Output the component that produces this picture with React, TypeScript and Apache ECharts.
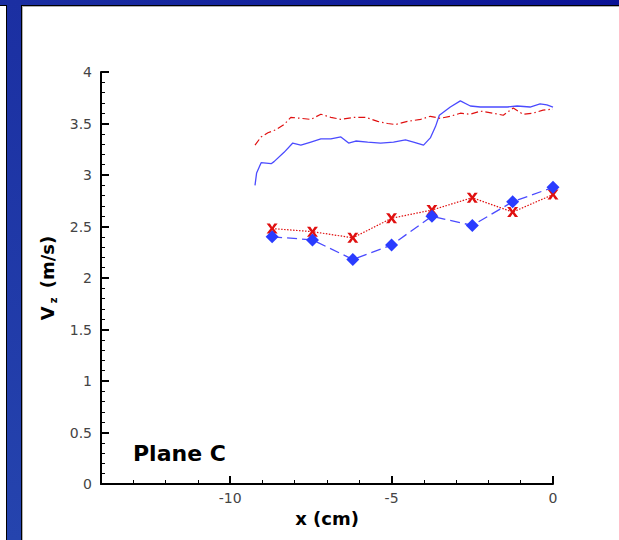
import React, { useEffect, useRef } from "react";
import * as echarts from "echarts";

// Continuous profile (solid blue)
const blueLineX = [-9.23, -9.18, -9.04, -8.73, -8.64, -8.33, -8.06, -7.81, -7.5, -7.19, -6.88, -6.57, -6.33, -6.11, -5.74, -5.34, -4.94, -4.57, -4.32, -4.01, -3.8, -3.64, -3.52, -3.18, -2.87, -2.56, -2.25, -1.85, -1.42, -1.11, -0.71, -0.4, -0.19, 0];
const blueLineY = [2.9, 3.02, 3.12, 3.11, 3.13, 3.22, 3.31, 3.29, 3.32, 3.35, 3.35, 3.37, 3.31, 3.33, 3.32, 3.31, 3.32, 3.34, 3.32, 3.29, 3.36, 3.47, 3.58, 3.66, 3.72, 3.67, 3.66, 3.66, 3.66, 3.67, 3.66, 3.69, 3.68, 3.66];

// Continuous profile (red dash-dot)
const redLineX = [-9.23, -9.04, -8.83, -8.58, -8.33, -8.12, -7.81, -7.5, -7.19, -6.88, -6.57, -6.17, -5.8, -5.43, -5.12, -4.88, -4.51, -4.1, -3.8, -3.49, -3.18, -2.87, -2.56, -2.25, -1.85, -1.54, -1.23, -0.93, -0.62, -0.31, 0];
const redLineY = [3.29, 3.37, 3.41, 3.44, 3.49, 3.56, 3.55, 3.54, 3.59, 3.56, 3.54, 3.56, 3.56, 3.52, 3.5, 3.49, 3.52, 3.54, 3.57, 3.55, 3.57, 3.6, 3.59, 3.62, 3.6, 3.58, 3.65, 3.59, 3.6, 3.63, 3.64];

// Discrete measurements
const pointX = [-8.7, -7.45, -6.2, -5.0, -3.75, -2.5, -1.25, 0];
const bluePointY = [2.4, 2.37, 2.18, 2.32, 2.6, 2.51, 2.74, 2.88];
const redPointY = [2.48, 2.45, 2.39, 2.58, 2.66, 2.78, 2.64, 2.81];

const xMajorTicks = [-10, -5, 0];
const xMinorTicks = [-13, -12, -11, -9, -8, -7, -6, -4, -3, -2, -1];

const zip = (xs: number[], ys: number[]) => xs.map((x, i) => [x, ys[i]]);

const RED = "#e01010";
const FONT = "'DejaVu Sans', 'Liberation Sans', Arial, sans-serif";

export default function App() {
  const ref = useRef<HTMLDivElement>(null);
  useEffect(() => {
    const chart = echarts.init(ref.current!, null, { renderer: "svg" });
    const tickStyle = { color: "#000", width: 2 };
    chart.setOption({
      animation: false,
      backgroundColor: "#fff",
      grid: { left: 101, right: 66, top: 72, bottom: 56, containLabel: false },
      xAxis: [
        {
          type: "value",
          min: -14,
          max: 0,
          position: "bottom",
          name: "x (cm)",
          nameLocation: "middle",
          nameGap: 23,
          nameTextStyle: { fontFamily: FONT, fontWeight: "bold", fontSize: 18, color: "#000" },
          axisLine: { show: true, onZero: false, lineStyle: { color: "#000", width: 2 } },
          axisTick: { show: true, inside: true, length: 8, customValues: xMajorTicks, lineStyle: tickStyle },
          axisLabel: { show: true, customValues: xMajorTicks, margin: 7, fontFamily: FONT, fontSize: 14, color: "#444" },
          splitLine: { show: false },
        },
        {
          type: "value",
          min: -14,
          max: 0,
          position: "bottom",
          axisLine: { show: false, onZero: false },
          axisTick: { show: true, inside: true, length: 4, customValues: xMinorTicks, lineStyle: { color: "#000", width: 1 } },
          axisLabel: { show: false },
          splitLine: { show: false },
        },
      ],
      yAxis: {
        type: "value",
        min: 0,
        max: 4,
        interval: 0.5,
        name: "{v|V}{s|z}{v| (m/s)}",
        nameLocation: "middle",
        nameGap: 40,
        nameRotate: 90,
        nameTextStyle: {
          rich: {
            v: { fontFamily: FONT, fontWeight: "bold", fontSize: 18, color: "#000", lineHeight: 22 },
            s: { fontFamily: FONT, fontWeight: "bold", fontSize: 10, color: "#000", lineHeight: 22, verticalAlign: "bottom", padding: [10, 3, 0, 3] },
          },
        },
        axisLine: { show: true, onZero: false, lineStyle: { color: "#000", width: 2 } },
        axisTick: { show: true, inside: true, length: 8, lineStyle: tickStyle },
        minorTick: { show: true, splitNumber: 5, length: 4, lineStyle: { color: "#000", width: 1 } },
        axisLabel: {
          margin: 9,
          fontFamily: FONT,
          fontSize: 14,
          color: "#444",
          formatter: (v: number) => String(v),
        },
        splitLine: { show: false },
      },
      series: [
        {
          type: "line",
          data: zip(blueLineX, blueLineY),
          showSymbol: false,
          symbol: "none",
          lineStyle: { color: "#4b4bff", width: 1.3 },
          z: 2,
        },
        {
          type: "line",
          data: zip(redLineX, redLineY),
          showSymbol: false,
          symbol: "none",
          lineStyle: { color: RED, width: 1.2, type: [7, 3, 1.5, 3] },
          z: 2,
        },
        {
          type: "line",
          data: zip(pointX, redPointY),
          symbol: "path://M0,0L3,0L5,3L7,0L10,0L6.5,4.5L10,9L7,9L5,6L3,9L0,9L3.5,4.5Z",
          symbolSize: [11, 10],
          itemStyle: { color: RED },
          lineStyle: { color: RED, width: 1.2, type: [1.5, 1.5] },
          z: 3,
        },
        {
          type: "line",
          data: zip(pointX, bluePointY),
          symbol: "diamond",
          symbolSize: [13, 13],
          itemStyle: { color: "#2a3cff" },
          lineStyle: { color: "#4b4bff", width: 1.3, type: [10, 5] },
          z: 4,
        },
      ],
      graphic: [
        {
          type: "text",
          left: 133,
          top: 442,
          style: { text: "Plane C", fontFamily: FONT, fontWeight: "bold", fontSize: 22, fill: "#000" },
        },
        {
          type: "rect",
          shape: { x: 0, y: 0, width: 619, height: 6 },
          style: {
            fill: new echarts.graphic.LinearGradient(0, 0, 1, 0, [
              { offset: 0, color: "#1b2fa2" },
              { offset: 1, color: "#0b1396" },
            ]),
          },
          z: 10,
        },
        { type: "rect", shape: { x: 0, y: 5, width: 619, height: 1 }, style: { fill: "#000" }, z: 11 },
        { type: "rect", shape: { x: 22, y: 6, width: 597, height: 1 }, style: { fill: "#b0b0b0" }, z: 11 },
        { type: "rect", shape: { x: 6, y: 5, width: 16, height: 535 }, style: { fill: "#000" }, z: 12 },
        {
          type: "rect",
          shape: { x: 7, y: 0, width: 14, height: 540 },
          style: {
            fill: new echarts.graphic.LinearGradient(0, 0, 0, 1, [
              { offset: 0, color: "#1b2fa2" },
              { offset: 1, color: "#2544ae" },
            ]),
          },
          z: 13,
        },
        { type: "rect", shape: { x: 22, y: 6, width: 1, height: 534 }, style: { fill: "#b0b0b0" }, z: 11 },
      ],
    });
    return () => chart.dispose();
  }, []);
  return (
    <div
      ref={ref}
      style={{ position: "fixed", left: 0, top: 0, width: 619, height: 540 }}
    />
  );
}
